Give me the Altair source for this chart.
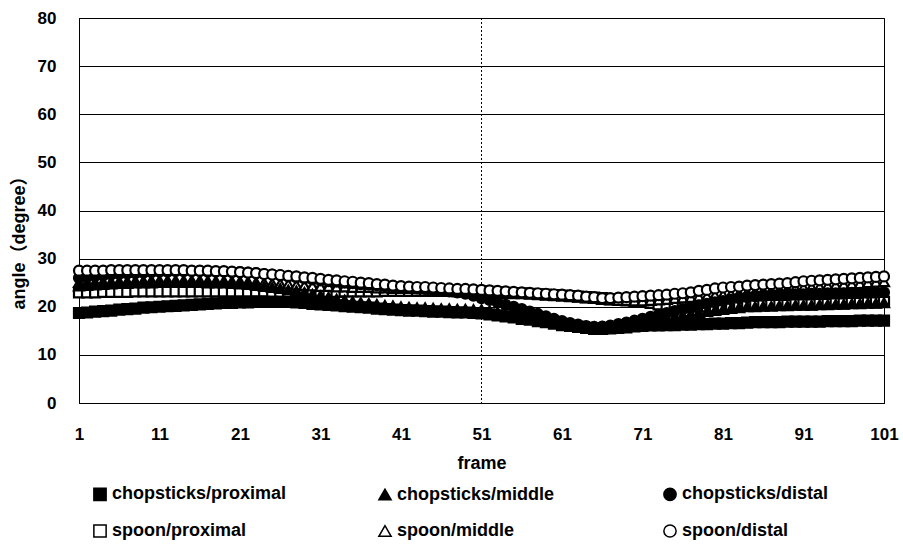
import altair as alt
import pandas as pd

frames = list(range(1, 102))

series_names = ["chopsticks/proximal", "chopsticks/middle", "chopsticks/distal",
                "spoon/proximal", "spoon/middle", "spoon/distal"]
series_shapes = ["square", "triangle-up", "circle", "square", "triangle-up", "circle"]
series_fills = ["black", "black", "black", "white", "white", "white"]
# order in which the series are drawn (later = on top)
draw_order = ["spoon/proximal", "spoon/middle", "chopsticks/proximal",
              "chopsticks/middle", "chopsticks/distal", "spoon/distal"]

chop_proximal = [
    18.7, 18.8, 19.0, 19.1, 19.2, 19.4, 19.5, 19.6, 19.8, 19.9,
    20.0, 20.1, 20.2, 20.3, 20.4, 20.5, 20.6, 20.7, 20.8, 20.8,
    20.9, 20.9, 21.0, 21.0, 21.0, 21.0, 21.0, 20.9, 20.8, 20.6,
    20.5, 20.4, 20.3, 20.1, 20.0, 19.9, 19.8, 19.6, 19.5, 19.4,
    19.3, 19.2, 19.2, 19.1, 19.0, 19.0, 18.9, 18.8, 18.8, 18.7,
    18.6, 18.4, 18.2, 18.0, 17.8, 17.5, 17.3, 17.0, 16.8, 16.5,
    16.2, 16.0, 15.8, 15.6, 15.4, 15.4, 15.5, 15.6, 15.7, 15.9,
    16.0, 16.1, 16.1, 16.2, 16.2, 16.3, 16.3, 16.4, 16.4, 16.5,
    16.5, 16.6, 16.6, 16.7, 16.8, 16.8, 16.8, 16.8, 16.9, 16.9,
    16.9, 16.9, 16.9, 17.0, 17.0, 17.0, 17.0, 17.1, 17.1, 17.1, 17.1]

chop_middle = [
    24.3, 24.4, 24.5, 24.6, 24.7, 24.8, 24.8, 24.9, 24.9, 24.9,
    25.0, 25.0, 25.0, 25.0, 25.0, 25.0, 24.9, 24.9, 24.9, 24.8,
    24.7, 24.6, 24.4, 24.2, 24.0, 23.8, 23.5, 23.3, 23.0, 22.6,
    22.3, 22.0, 21.6, 21.4, 21.1, 20.9, 20.7, 20.5, 20.3, 20.2,
    20.0, 19.9, 19.8, 19.8, 19.7, 19.6, 19.6, 19.5, 19.5, 19.4,
    19.4, 19.2, 18.9, 18.6, 18.3, 18.0, 17.7, 17.4, 17.1, 16.8,
    16.5, 16.3, 16.1, 15.9, 15.8, 15.8, 15.9, 16.1, 16.3, 16.5,
    16.8, 17.0, 17.3, 17.6, 17.9, 18.2, 18.5, 18.8, 19.0, 19.2,
    19.4, 19.6, 19.8, 20.0, 20.0, 20.1, 20.1, 20.2, 20.2, 20.3,
    20.3, 20.3, 20.4, 20.4, 20.5, 20.5, 20.6, 20.6, 20.7, 20.7, 20.8]

chop_distal = [
    26.0, 26.2, 26.4, 26.5, 26.7, 26.8, 26.9, 27.0, 27.1, 27.2,
    27.3, 27.3, 27.4, 27.4, 27.4, 27.4, 27.3, 27.3, 27.3, 27.2,
    27.2, 27.1, 27.0, 26.8, 26.7, 26.5, 26.3, 26.1, 25.9, 25.7,
    25.5, 25.3, 25.2, 25.0, 24.9, 24.7, 24.6, 24.5, 24.3, 24.2,
    24.0, 23.9, 23.8, 23.7, 23.6, 23.4, 23.2, 23.0, 22.7, 22.3,
    21.8, 21.4, 20.9, 20.4, 20.0, 19.5, 19.0, 18.5, 18.0, 17.5,
    17.0, 16.6, 16.3, 16.0, 15.8, 15.9, 16.1, 16.4, 16.7, 17.1,
    17.5, 17.9, 18.3, 18.7, 19.1, 19.5, 19.9, 20.3, 20.6, 20.9,
    21.2, 21.5, 21.8, 22.0, 22.2, 22.3, 22.4, 22.5, 22.5, 22.6,
    22.6, 22.7, 22.7, 22.8, 22.8, 22.8, 22.9, 22.9, 22.9, 23.0, 23.0]

spoon_proximal = [
    23.0, 23.0, 23.0, 23.1, 23.1, 23.1, 23.1, 23.2, 23.2, 23.2,
    23.2, 23.2, 23.2, 23.2, 23.2, 23.2, 23.2, 23.2, 23.2, 23.2,
    23.2, 23.2, 23.2, 23.2, 23.1, 23.1, 23.1, 23.1, 23.1, 23.1,
    23.1, 23.1, 23.1, 23.2, 23.2, 23.2, 23.2, 23.2, 23.3, 23.3,
    23.3, 23.3, 23.3, 23.3, 23.3, 23.3, 23.3, 23.2, 23.2, 23.2,
    23.2, 23.1, 23.0, 22.9, 22.8, 22.8, 22.7, 22.6, 22.5, 22.4,
    22.3, 22.2, 22.1, 22.0, 21.9, 21.8, 21.6, 21.5, 21.3, 21.2,
    21.0, 20.8, 20.5, 20.3, 20.0, 20.0, 20.0, 20.1, 20.1, 20.1,
    20.2, 20.2, 20.2, 20.3, 20.3, 20.3, 20.4, 20.4, 20.4, 20.5,
    20.5, 20.5, 20.6, 20.6, 20.7, 20.7, 20.8, 20.8, 20.9, 20.9, 21.0]

spoon_middle = [
    25.0, 25.1, 25.1, 25.2, 25.2, 25.3, 25.3, 25.4, 25.4, 25.5,
    25.5, 25.5, 25.5, 25.5, 25.5, 25.5, 25.4, 25.4, 25.4, 25.3,
    25.3, 25.2, 25.1, 25.0, 24.9, 24.8, 24.7, 24.5, 24.4, 24.3,
    24.2, 24.2, 24.1, 24.1, 24.0, 24.0, 24.0, 23.9, 23.9, 23.8,
    23.8, 23.8, 23.7, 23.7, 23.6, 23.6, 23.5, 23.5, 23.4, 23.4,
    23.3, 23.2, 23.1, 23.0, 22.9, 22.8, 22.7, 22.6, 22.5, 22.4,
    22.3, 22.1, 22.0, 21.8, 21.7, 21.5, 21.4, 21.3, 21.3, 21.2,
    21.2, 21.3, 21.4, 21.5, 21.7, 21.8, 21.9, 22.1, 22.2, 22.4,
    22.5, 22.7, 22.8, 23.0, 23.1, 23.3, 23.4, 23.6, 23.7, 23.9,
    24.0, 24.1, 24.2, 24.4, 24.5, 24.6, 24.7, 24.8, 25.0, 25.1, 25.2]

spoon_distal = [
    27.5, 27.5, 27.5, 27.5, 27.6, 27.6, 27.6, 27.6, 27.6, 27.6,
    27.6, 27.6, 27.6, 27.6, 27.5, 27.5, 27.5, 27.4, 27.4, 27.3,
    27.2, 27.1, 27.0, 26.8, 26.7, 26.6, 26.4, 26.3, 26.1, 26.0,
    25.8, 25.6, 25.5, 25.3, 25.2, 25.0, 24.9, 24.7, 24.6, 24.4,
    24.3, 24.2, 24.1, 24.1, 24.0, 23.9, 23.8, 23.7, 23.7, 23.6,
    23.5, 23.4, 23.3, 23.2, 23.1, 23.0, 22.9, 22.8, 22.7, 22.6,
    22.5, 22.4, 22.3, 22.1, 22.0, 21.8, 21.8, 21.9, 22.0, 22.1,
    22.2, 22.3, 22.4, 22.5, 22.7, 22.8, 23.0, 23.3, 23.5, 23.8,
    24.0, 24.1, 24.2, 24.4, 24.5, 24.6, 24.7, 24.8, 24.9, 25.1,
    25.3, 25.4, 25.5, 25.6, 25.7, 25.8, 25.9, 26.0, 26.1, 26.2, 26.3]

x_ticks = [1, 11, 21, 31, 41, 51, 61, 71, 81, 91, 101]
y_ticks = [0, 10, 20, 30, 40, 50, 60, 70, 80]
marker_frame = [51]

series_values = dict(zip(series_names, [chop_proximal, chop_middle, chop_distal,
                                        spoon_proximal, spoon_middle, spoon_distal]))

rows = []
for name in draw_order:
    for f, v in zip(frames, series_values[name]):
        rows.append({"frame": f, "angle": v, "series": name})
df = pd.DataFrame(rows)

FONT = "Liberation Sans"
CJK = "Liberation Sans, Noto Sans CJK JP"

x_enc = alt.X("frame:Q", scale=alt.Scale(domain=[1, 101], nice=False, zero=False),
              axis=alt.Axis(values=x_ticks, grid=False, ticks=False, tickSize=0,
                            labelPadding=23, title="frame", titleY=60,
                            titleBaseline="middle", domainColor="black",
                            labelFlush=False))
y_enc = alt.Y("angle:Q", scale=alt.Scale(domain=[0, 80], nice=False),
              axis=alt.Axis(values=y_ticks, grid=True, gridColor="black",
                            gridOpacity=1, ticks=False, tickSize=0,
                            labelPadding=23, title="angle\uff08degree\uff09",
                            titleFont=CJK, titleX=-60, titleY=220,
                            titleAngle=-90, titleAlign="center",
                            titleBaseline="middle", domainColor="black"))

points = alt.Chart(df).mark_point(
    filled=False, stroke="black", strokeWidth=2.2, opacity=1, size=100
).encode(
    x=x_enc,
    y=y_enc,
    shape=alt.Shape("series:N", sort=series_names,
                    scale=alt.Scale(domain=series_names, range=series_shapes),
                    title=None),
    fill=alt.Fill("series:N", sort=series_names,
                  scale=alt.Scale(domain=series_names, range=series_fills),
                  title=None,
                  legend=alt.Legend(orient="none", legendX=12, legendY=467,
                                    columns=3, direction="horizontal",
                                    columnPadding=88, rowPadding=17,
                                    symbolSize=150, symbolStrokeColor="black",
                                    symbolStrokeWidth=1.5, labelFontSize=18,
                                    labelFont=FONT, labelFontWeight="bold",
                                    labelColor="black", labelOffset=3,
                                    labelLimit=400, gridAlign="all")),
)

divider = alt.Chart(pd.DataFrame({"frame": marker_frame})).mark_rule(
    color="black", strokeDash=[2, 2], strokeWidth=1
).encode(x="frame:Q")

chart = alt.layer(divider, points).properties(
    width=805, height=385,
    autosize=alt.AutoSizeParams(type="none"),
    padding={"left": 79, "top": 18, "right": 19, "bottom": 145},
).configure_view(
    stroke="black", strokeWidth=1
).configure_axis(
    labelFont=FONT, labelFontSize=17, labelFontWeight="bold", labelColor="black",
    titleFont=FONT, titleFontSize=18, titleFontWeight="bold", titleColor="black",
)

chart.save("out.html", embed_options={"renderer": "svg", "actions": False})
